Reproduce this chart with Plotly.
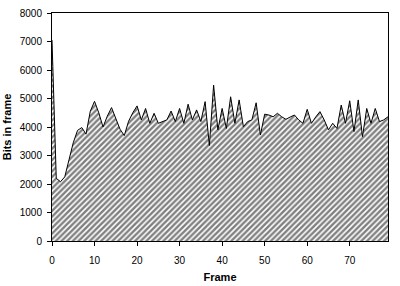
import plotly.graph_objects as go

frames = list(range(80))
bits = [
    7050, 2200, 2080, 2250, 2850, 3450, 3880, 3980, 3750, 4550,
    4900, 4500, 4000, 4380, 4680, 4330, 3920, 3700, 4200, 4500,
    4740, 4250, 4650, 4130, 4480, 4130, 4200, 4250, 4560, 4190,
    4650, 4130, 4800, 4250, 4600, 4190, 4890, 3350, 5470, 3900,
    4650, 3950, 5060, 4130, 4950, 4010, 4190, 4250, 4850, 3720,
    4450, 4420, 4360, 4480, 4360, 4270, 4350, 4420, 4250, 4130,
    4620, 4130, 4350, 4540, 4250, 3900, 4130, 3950, 4770, 4130,
    4920, 3840, 4950, 3660, 4650, 4130, 4650, 4190, 4250, 4360,
]
x_ticks = [0, 10, 20, 30, 40, 50, 60, 70]
y_ticks = [0, 1000, 2000, 3000, 4000, 5000, 6000, 7000, 8000]

fig = go.Figure()
fig.add_trace(go.Scatter(
    x=frames, y=bits, mode="lines", fill="tozeroy",
    line=dict(color="black", width=1),
    fillcolor="white",
    fillpattern=dict(shape="/", fgcolor="black", bgcolor="white", size=4, solidity=0.6),
    hoverinfo="skip", showlegend=False,
))

font = dict(family="Liberation Sans, Arial, sans-serif", size=10, color="black")
fig.update_layout(
    width=400, height=286,
    margin=dict(l=52, r=12, t=13, b=45, autoexpand=False),
    paper_bgcolor="white", plot_bgcolor="white",
    font=font,
    xaxis=dict(
        range=[0, 79], tickvals=x_ticks, ticktext=[str(v) for v in x_ticks],
        ticks="outside", ticklen=4, tickcolor="black", ticklabelstandoff=6,
        showline=True, linecolor="black", linewidth=1, mirror=True,
        showgrid=False, zeroline=False, automargin=False,
        title=dict(text="<b>Frame</b>", font=dict(size=11), standoff=8),
    ),
    yaxis=dict(
        range=[0, 8000], tickvals=y_ticks, ticktext=[str(v) for v in y_ticks],
        ticks="outside", ticklen=4, tickcolor="black", ticklabelstandoff=3,
        showline=True, linecolor="black", linewidth=1, mirror=True,
        showgrid=False, zeroline=False, automargin=False,
        title=dict(text="<b>Bits in frame</b>", font=dict(size=11), standoff=5),
    ),
)
fig.write_html("out.html")
